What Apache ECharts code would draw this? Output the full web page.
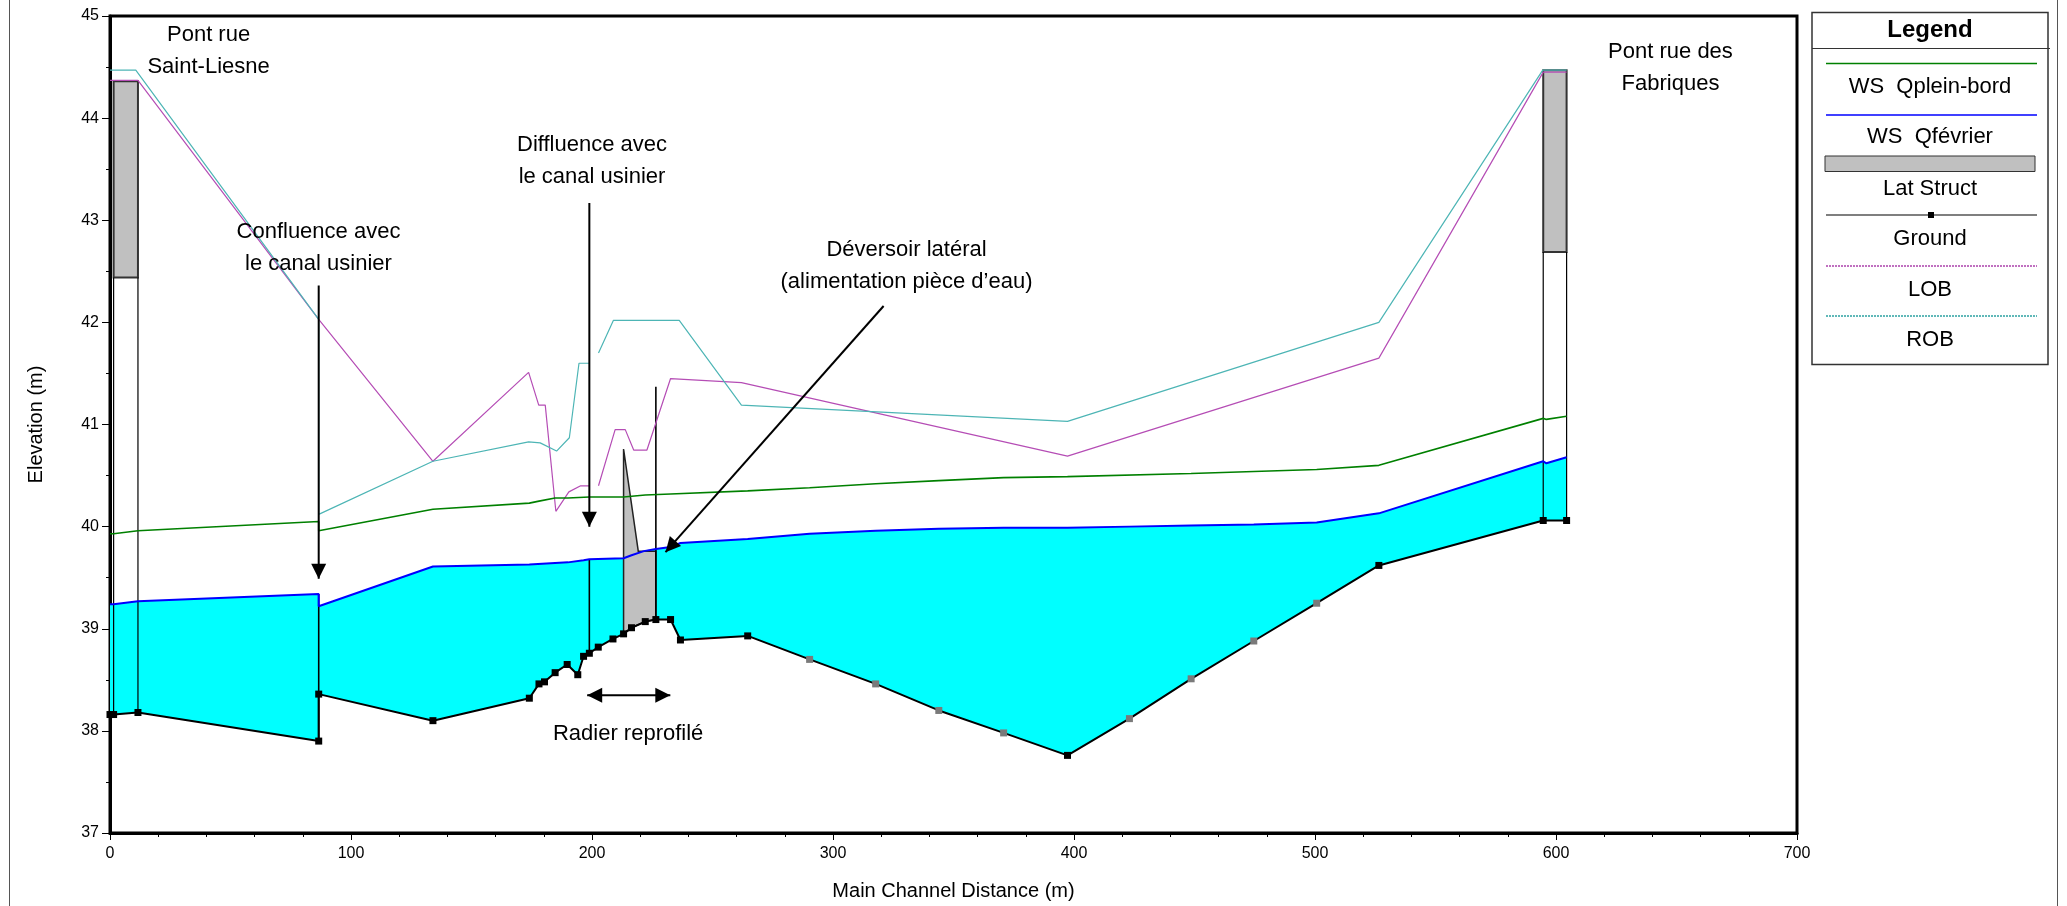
<!DOCTYPE html>
<html>
<head>
<meta charset="utf-8">
<script src="https://cdn.jsdelivr.net/npm/echarts@6/dist/echarts.min.js"></script>
<style>
  html, body { margin: 0; padding: 0; background: #fff; }
  #chart { width: 2067px; height: 906px; }
</style>
</head>
<body>
<div id="chart"></div>
<script>
// Longitudinal profile — stations (m) along the main channel, elevations (m)
const ground = [[0,38.16],[1.5,38.16],[11.6,38.18],[86.6,37.90],[86.6,38.36],[134.0,38.10],[174.0,38.32],[178.0,38.46],[180.3,38.48],[184.7,38.57],[189.7,38.65],[194.1,38.55],[196.5,38.73],[198.9,38.76],[202.6,38.82],[208.7,38.90],[213.1,38.95],[216.4,39.01],[222.1,39.07],[226.5,39.09],[232.6,39.09],[236.7,38.89],[264.6,38.93],[290.3,38.70],[317.7,38.46],[343.9,38.20],[370.8,37.98],[397.3,37.76],[423.0,38.12],[448.6,38.51],[474.6,38.88],[500.7,39.25],[526.5,39.62],[594.7,40.06],[604.4,40.06]];
// interpolated cross sections (grey markers)
const interpolatedStations = [290.3,317.7,343.9,370.8,423.0,448.6,474.6,500.7];

const wsFevrier = [[0,39.24],[1.5,39.24],[11.6,39.27],[86.6,39.34],[86.6,39.22],[134.0,39.61],[174.0,39.63],[190.0,39.65],[196.5,39.67],[198.9,39.68],[213.1,39.69],[216.4,39.72],[221.5,39.76],[226.5,39.78],[232.6,39.80],[236.7,39.84],[264.6,39.88],[290.3,39.93],[317.7,39.96],[343.9,39.98],[370.8,39.99],[397.3,39.99],[423.0,40.00],[448.6,40.01],[474.6,40.02],[500.7,40.04],[526.5,40.13],[594.7,40.64],[596.0,40.62],[604.4,40.68]];

const wsPleinBord = [[0,39.93],[1.5,39.93],[11.6,39.96],[86.6,40.05],[86.6,39.96],[134.0,40.17],[174.0,40.23],[178.0,40.25],[184.7,40.28],[190.0,40.28],[198.9,40.29],[213.1,40.29],[222.1,40.31],[232.6,40.32],[264.6,40.35],[290.3,40.38],[317.7,40.42],[343.9,40.45],[370.8,40.48],[397.3,40.49],[448.6,40.52],[500.7,40.56],[526.5,40.60],[594.7,41.06],[596.0,41.05],[604.4,41.08]];

// left / right overbank elevations ('-' breaks the line)
const lob = [[0,44.37],[11.6,44.37],[86.6,42.03],[134.0,40.64],[173.7,41.51],[177.9,41.19],[180.6,41.19],[185.0,40.15],[190.4,40.34],[195.3,40.40],[198.8,40.40],[200.7,'-'],[202.7,40.40],[209.6,40.95],[213.8,40.95],[217.3,40.75],[222.8,40.75],[232.6,41.45],[262.0,41.41],[397.3,40.69],[526.5,41.65],[594.7,44.45],[604.4,44.45]];
const rob = [[0,44.47],[10.7,44.47],[86.6,42.03],[86.6,40.12],[134.0,40.64],[173.7,40.83],[178.5,40.82],[185.3,40.74],[190.6,40.87],[194.6,41.60],[198.8,41.60],[200.7,'-'],[202.7,41.70],[208.9,42.02],[236.2,42.02],[262.0,41.19],[397.3,41.03],[526.5,42.00],[594.5,44.47],[604.4,44.47]];

// structures: bridge decks [start, end, low chord, high chord], lateral weir outline
const bridgeDecks = [[1.5,11.6,42.44,44.36],[594.7,604.4,42.69,44.47]];
const lateralWeir = [[213.1,38.95],[213.1,40.76],[219.2,39.76],[226.5,39.76],[226.5,39.09],[222.1,39.07],[216.4,39.01]];
// vertical section lines [station, bottom, top]
const sectionLines = [[86.6,37.90,39.34],[198.9,38.76,39.68],[226.5,39.09,41.37]];

// annotations (anchored in data units)
const notes = [
  ['Pont rue\nSaint-Liesne', 40.9, 44.66],
  ['Confluence avec\nle canal usinier', 86.5, 42.73],
  ['Diffluence avec\nle canal usinier', 200.0, 43.58],
  ['Déversoir latéral\n(alimentation pièce d’eau)', 330.5, 42.55],
  ['Pont rue des\nFabriques', 647.5, 44.49],
  ['Radier reprofilé', 215.0, 37.97]
];
const arrows = [
  [[86.6,42.36],[86.6,39.49],false],
  [[198.9,43.17],[198.9,40.00],false],
  [[321.0,42.16],[230.5,39.75],false],
  [[198.0,38.35],[232.5,38.35],true]
];

const xTicks = { min: 0, max: 700, step: 100 };
const yTicks = { min: 37, max: 45, step: 1 };

const FONT = 'Arial, "Liberation Sans", sans-serif';

function groundAt(x) {
  const hit = ground.find(p => p[0] === x);
  if (hit) return hit[1];
  for (let i = 1; i < ground.length; i++) {
    const a = ground[i - 1], b = ground[i];
    if (x >= a[0] && x <= b[0] && b[0] > a[0]) return a[1] + (b[1] - a[1]) * (x - a[0]) / (b[0] - a[0]);
  }
  return ground[ground.length - 1][1];
}

function arrowHead(tip, from) {
  const dx = tip[0] - from[0], dy = tip[1] - from[1];
  const L = Math.hypot(dx, dy), ux = dx / L, uy = dy / L;
  const len = 15, half = 7.5;
  const bx = tip[0] - ux * len, by = tip[1] - uy * len;
  return {
    type: 'polygon',
    shape: { points: [tip, [bx - uy * half, by + ux * half], [bx + uy * half, by - ux * half]] },
    style: { fill: '#000' }
  };
}

const chart = echarts.init(document.getElementById('chart'), null, { renderer: 'canvas' });

const legendItems = [
  { kind: 'line', color: '#008000', width: 1.5, label: 'WS  Qplein-bord', ly: 63.5, ty: 87 },
  { kind: 'line', color: '#0000ff', width: 1.5, label: 'WS  Qfévrier', ly: 115, ty: 137 },
  { kind: 'rect', label: 'Lat Struct', ly: 163.5, ty: 188.5 },
  { kind: 'ground', label: 'Ground', ly: 215, ty: 238.5 },
  { kind: 'dot', color: '#c070c0', label: 'LOB', ly: 266, ty: 289.5 },
  { kind: 'dot', color: '#60b8b8', label: 'ROB', ly: 316, ty: 340 }
];

const legendGraphics = [
  { type: 'rect', shape: { x: 1812, y: 12.5, width: 236, height: 352 }, style: { fill: '#fff', stroke: '#333', lineWidth: 1.5 } },
  { type: 'line', shape: { x1: 1812, y1: 48.5, x2: 2050, y2: 48.5 }, style: { stroke: '#333', lineWidth: 1 } },
  { type: 'text', x: 1930, y: 30, style: { text: 'Legend', font: 'bold 24px ' + FONT, fill: '#000', align: 'center', verticalAlign: 'middle' } }
];
legendItems.forEach(it => {
  if (it.kind === 'rect') {
    legendGraphics.push({ type: 'rect', shape: { x: 1825, y: 156, width: 210, height: 15.5 }, style: { fill: '#c0c0c0', stroke: '#333', lineWidth: 1 } });
  } else if (it.kind === 'ground') {
    legendGraphics.push({ type: 'line', shape: { x1: 1826, y1: it.ly, x2: 2037, y2: it.ly }, style: { stroke: '#000', lineWidth: 1.2 } });
    legendGraphics.push({ type: 'rect', shape: { x: 1928, y: it.ly - 3, width: 6, height: 6 }, style: { fill: '#000' } });
  } else {
    legendGraphics.push({ type: 'line', shape: { x1: 1826, y1: it.ly, x2: 2037, y2: it.ly },
      style: { stroke: it.color, lineWidth: it.kind === 'dot' ? 2 : it.width, lineDash: it.kind === 'dot' ? [2, 1] : null } });
  }
  legendGraphics.push({ type: 'text', x: 1930, y: it.ty, style: { text: it.label, font: '22px ' + FONT, fill: '#000', align: 'center', verticalAlign: 'middle' } });
});

const option = {
  animation: false,
  backgroundColor: '#fff',
  grid: { left: 110, right: 270, top: 16, bottom: 73, outerBoundsMode: 'none', show: true, borderColor: '#000', borderWidth: 3, backgroundColor: 'transparent' },
  xAxis: {
    type: 'value', min: xTicks.min, max: xTicks.max, interval: xTicks.step,
    name: 'Main Channel Distance (m)', nameLocation: 'middle', nameGap: 48,
    nameTextStyle: { fontSize: 20, color: '#000', fontFamily: FONT },
    axisLine: { show: true, onZero: false, lineStyle: { color: '#000', width: 3 } },
    axisTick: { show: true, length: 7, lineStyle: { color: '#000', width: 1 } },
    minorTick: { show: true, splitNumber: 5, length: 4, lineStyle: { color: '#000', width: 1 } },
    splitLine: { show: false },
    axisLabel: { color: '#000', fontSize: 16, margin: 13, fontFamily: FONT }
  },
  yAxis: {
    type: 'value', min: yTicks.min, max: yTicks.max, interval: yTicks.step,
    name: 'Elevation (m)', nameLocation: 'middle', nameGap: 64, nameRotate: 90,
    nameTextStyle: { fontSize: 20, color: '#000', fontFamily: FONT },
    axisLine: { show: true, onZero: false, lineStyle: { color: '#000', width: 3 } },
    axisTick: { show: true, length: 8, lineStyle: { color: '#000', width: 1 } },
    minorTick: { show: true, splitNumber: 2, length: 4, lineStyle: { color: '#000', width: 1 } },
    splitLine: { show: false },
    axisLabel: { color: '#000', fontSize: 16, margin: 11, fontFamily: FONT }
  },
  graphic: [
    { type: 'line', shape: { x1: 9.5, y1: 0, x2: 9.5, y2: 906 }, style: { stroke: '#555', lineWidth: 1 } },
    { type: 'line', shape: { x1: 2057.5, y1: 0, x2: 2057.5, y2: 906 }, style: { stroke: '#555', lineWidth: 1 } },
    ...legendGraphics
  ],
  series: [
    {
      // water body between the ground and the February water surface
      type: 'custom', name: 'flow', data: [[0, 37]], z: 1, silent: true,
      renderItem: (params, api) => {
        const pts = wsFevrier.map(p => api.coord(p)).concat(ground.slice().reverse().map(p => api.coord(p)));
        return { type: 'polygon', shape: { points: pts }, style: { fill: '#00ffff' } };
      }
    },
    {
      type: 'custom', name: 'Lat Struct', data: [[0, 37]], z: 2, silent: true,
      renderItem: (params, api) => {
        const children = [];
        bridgeDecks.forEach(d => {
          const a = api.coord([d[0], d[3]]), b = api.coord([d[1], d[2]]);
          children.push({ type: 'rect', shape: { x: a[0], y: a[1], width: b[0] - a[0], height: b[1] - a[1] }, style: { fill: '#c0c0c0', stroke: '#333', lineWidth: 2 } });
          [d[0], d[1]].forEach(x => {
            const top = api.coord([x, d[2]]), bot = api.coord([x, groundAt(x)]);
            children.push({ type: 'line', shape: { x1: top[0], y1: top[1], x2: bot[0], y2: bot[1] }, style: { stroke: '#000', lineWidth: 1.2 } });
          });
        });
        children.push({ type: 'polygon', shape: { points: lateralWeir.map(p => api.coord(p)) }, style: { fill: '#c0c0c0', stroke: '#222', lineWidth: 1.5 } });
        sectionLines.forEach(s => {
          const a = api.coord([s[0], s[1]]), b = api.coord([s[0], s[2]]);
          children.push({ type: 'line', shape: { x1: a[0], y1: a[1], x2: b[0], y2: b[1] }, style: { stroke: '#000', lineWidth: 1.6 } });
        });
        return { type: 'group', children };
      }
    },
    { type: 'line', name: 'LOB', data: lob, symbol: 'none', connectNulls: false, z: 3, lineStyle: { color: '#b54db5', width: 1.2 } },
    { type: 'line', name: 'ROB', data: rob, symbol: 'none', connectNulls: false, z: 3, lineStyle: { color: '#4db5b5', width: 1.2 } },
    { type: 'line', name: 'WS  Qplein-bord', data: wsPleinBord, symbol: 'none', z: 4, lineStyle: { color: '#008000', width: 1.6 } },
    { type: 'line', name: 'WS  Qfévrier', data: wsFevrier, symbol: 'none', z: 4, lineStyle: { color: '#0000ff', width: 2 } },
    {
      type: 'line', name: 'Ground', z: 5, symbol: 'rect', symbolSize: 7, showSymbol: true,
      data: ground.map(p => ({ value: p, itemStyle: { color: interpolatedStations.includes(p[0]) ? '#7a7a7a' : '#000' } })),
      lineStyle: { color: '#000', width: 2 }, itemStyle: { color: '#000' }
    },
    {
      type: 'custom', name: 'notes', data: [[0, 37]], z: 6, silent: true,
      renderItem: (params, api) => {
        const children = [];
        arrows.forEach(([from, to, both]) => {
          const p0 = api.coord(from), p1 = api.coord(to);
          children.push({ type: 'line', shape: { x1: p0[0], y1: p0[1], x2: p1[0], y2: p1[1] }, style: { stroke: '#000', lineWidth: 2 } });
          children.push(arrowHead(p1, p0));
          if (both) children.push(arrowHead(p0, p1));
        });
        notes.forEach(([text, x, y]) => {
          const p = api.coord([x, y]);
          children.push({ type: 'text', x: p[0], y: p[1], style: { text, fontSize: 22, fontFamily: FONT, fill: '#000', align: 'center', verticalAlign: 'middle', lineHeight: 32 } });
        });
        return { type: 'group', children };
      }
    }
  ]
};

chart.setOption(option);
</script>
</body>
</html>
